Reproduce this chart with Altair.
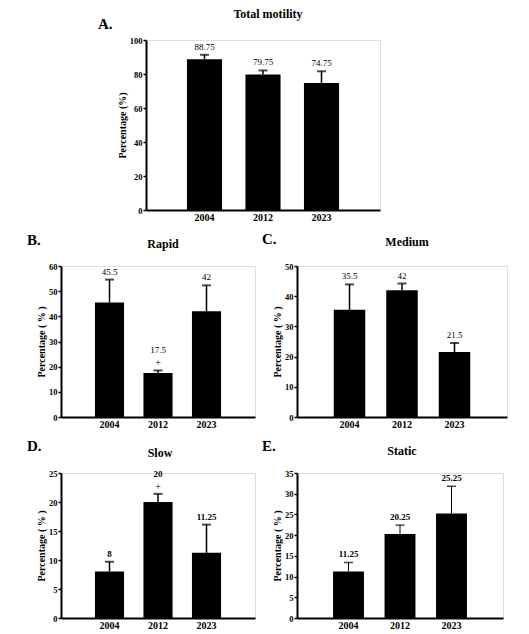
import altair as alt
import pandas as pd

FONT = "Liberation Serif"
years = ["2004", "2012", "2023"]

total_mean = [88.75, 79.75, 74.75]
total_upper = [91.3, 82.1, 81.6]
total_sig = [False, False, False]

rapid_mean = [45.5, 17.5, 42]
rapid_upper = [54.6, 18.5, 52.3]
rapid_sig = [False, True, False]

medium_mean = [35.5, 42, 21.5]
medium_upper = [43.9, 44.2, 24.5]
medium_sig = [False, False, False]

slow_mean = [8, 20, 11.25]
slow_upper = [9.7, 21.4, 16.1]
slow_sig = [False, True, False]

static_mean = [11.25, 20.25, 25.25]
static_upper = [13.4, 22.4, 31.8]
static_sig = [False, False, False]


def panel(title, letter, mean, upper, sig, ymax, ystep, width, height, ytitle,
          letter_dx, letter_dy, title_x, title_y, label_weight="normal", err_w=1.5):
    df = pd.DataFrame({
        "year": years, "mean": mean, "upper": upper,
        "label": [f"{v:g}" for v in mean], "sig": sig,
    })
    x = alt.X("year:N", sort=years, title=None,
              scale=alt.Scale(paddingInner=0.4, paddingOuter=0.7),
              axis=alt.Axis(labelAngle=0, ticks=False, domainWidth=2, domainColor="black",
                            labelFont=FONT, labelFontWeight="bold", labelFontSize=10,
                            labelColor="black", labelPadding=2))
    yscale = alt.Scale(domain=[0, ymax], nice=False, zero=True)
    yaxis = alt.Axis(values=list(range(0, ymax + 1, ystep)), grid=False, tickSize=3,
                     tickWidth=1.5, tickColor="black", domainWidth=2, domainColor="black",
                     labelFont=FONT, labelFontWeight="bold", labelFontSize=8.5,
                     labelColor="black", labelPadding=1, labelOverlap=False,
                     labelFlush=False, titleFont=FONT, titleFontSize=10,
                     titleFontWeight="bold", titleColor="black", titlePadding=2)

    def Y(field):
        return alt.Y(field, title=ytitle, scale=yscale, axis=yaxis)

    base = alt.Chart(df).encode(x=x)
    bars = base.mark_bar(color="black").encode(y=Y("mean:Q"))
    err = base.mark_rule(color="black", strokeWidth=err_w).encode(
        y=Y("mean:Q"), y2="upper:Q")
    cap = base.mark_tick(color="black", thickness=err_w + 0.5, size=9).encode(
        y=Y("upper:Q"))
    lab = base.transform_filter("!datum.sig").mark_text(
        baseline="bottom", dy=-3, font=FONT, fontSize=9, fontWeight=label_weight,
        color="black").encode(y=Y("upper:Q"), text="label:N")
    lab_sig = base.transform_filter("datum.sig").mark_text(
        baseline="bottom", dy=-15, font=FONT, fontSize=9, fontWeight=label_weight,
        color="black").encode(y=Y("upper:Q"), text="label:N")
    plus = base.transform_filter("datum.sig").mark_text(
        baseline="bottom", dy=-2, font=FONT, fontSize=10, color="black", text="+").encode(
        y=Y("upper:Q"))
    let = alt.Chart(pd.DataFrame({"t": [letter]})).mark_text(
        align="left", baseline="middle", font=FONT, fontSize=15, fontWeight="bold",
        color="black").encode(x=alt.value(letter_dx), y=alt.value(letter_dy), text="t:N")
    name = alt.Chart(pd.DataFrame({"t": [title]})).mark_text(
        align="center", baseline="middle", font=FONT, fontSize=12, fontWeight="bold",
        color="black").encode(x=alt.value(title_x), y=alt.value(title_y), text="t:N")
    return alt.layer(bars, err, cap, lab, lab_sig, plus, let, name).properties(
        width=width, height=height)


A = panel("Total motility", "A.", total_mean, total_upper, total_sig, 100, 20, 234, 170,
          "Percentage (%)", -48, -16, 122, -26)
B = panel("Rapid", "B.", rapid_mean, rapid_upper, rapid_sig, 60, 10, 194, 151,
          "Percentage ( % )", -34, -26, 102, -22)
C = panel("Medium", "C.", medium_mean, medium_upper, medium_sig, 50, 10, 210, 151,
          "Percentage ( % )", -35, -27, 110, -24)
D = panel("Slow", "D.", slow_mean, slow_upper, slow_sig, 25, 5, 194, 145,
          "Percentage ( % )", -34, -27, 99, -20, "bold")
E = panel("Static", "E.", static_mean, static_upper, static_sig, 35, 5, 206, 145,
          "Percentage ( % )", -35, -27, 105, -22, "bold", 1)

spacer = alt.Chart(pd.DataFrame({"a": [0]})).mark_text(text=" ", opacity=0).encode(
    x=alt.value(0), y=alt.value(0)).properties(
    width=85, height=10,
    view=alt.ViewBackground(strokeOpacity=0, fillOpacity=0, strokeWidth=0))

row1 = alt.hconcat(spacer, A, spacing=0, bounds="flush")
row2 = alt.hconcat(B, C, spacing=42, bounds="flush")
row3 = alt.hconcat(D, E, spacing=42, bounds="flush")

chart = alt.vconcat(row1, row2, row3, spacing=8).properties(
    padding={"left": 18, "top": -1, "right": 5, "bottom": 0}
).configure_view(stroke="transparent", strokeWidth=0).configure(background="white")

chart.save("out.html", embed_options={"renderer": "svg", "actions": False})
